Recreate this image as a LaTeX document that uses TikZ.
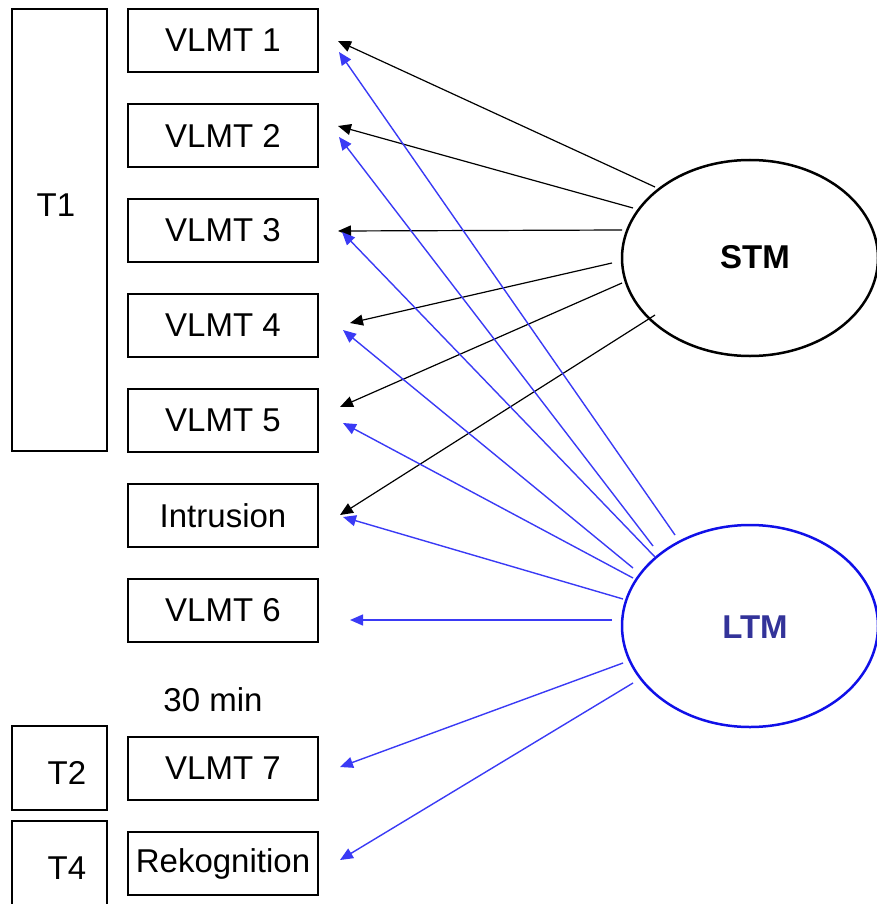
\documentclass[tikz,border=0pt]{standalone}
\usepackage{fontspec}
\setmainfont{Liberation Sans}
\usetikzlibrary{arrows.meta,shapes.geometric}
\definecolor{lblue}{HTML}{3A3AF5}
\definecolor{eblue}{HTML}{1010E8}
\definecolor{tblue}{HTML}{333399}
\begin{document}
\begin{tikzpicture}[x=1pt,y=-1pt,
  box/.style={draw,line width=1.8pt,minimum width=190pt,minimum height=63pt,inner sep=0pt,font=\fontsize{33}{39}\selectfont},
  lbl/.style={font=\fontsize{33}{39}\selectfont,inner sep=0pt},
  stmarr/.style={line width=1.2pt,black,-{Triangle[length=13pt,width=11pt]}},
  ltmarr/.style={line width=1.4pt,lblue,-{Triangle[length=13pt,width=11pt]}}]
\useasboundingbox (0,0) rectangle (877,904);
% left time boxes
\draw[line width=1.8pt] (12,9) rectangle (107,451);
\draw[line width=1.8pt] (12,726) rectangle (107,810);
\draw[line width=1.8pt] (12,906) -- (12,821) -- (107,821) -- (107,906);
\node[lbl] (t1) at (56,205) {T1};
\node[lbl] (t2) at (67,773) {T2};
\node[lbl] (t4) at (67,868) {T4};
% task boxes
\node[box] (v1) at (223,40.5) {VLMT 1};
\node[box] (v2) at (223,135.5) {VLMT 2};
\node[box] (v3) at (223,230.5) {VLMT 3};
\node[box] (v4) at (223,325.5) {VLMT 4};
\node[box] (v5) at (223,420.5) {VLMT 5};
\node[box] (int) at (223,515.5) {Intrusion};
\node[box] (v6) at (223,610.5) {VLMT 6};
\node[lbl] (min) at (213,700) {30 min};
\node[box] (v7) at (223,768.5) {VLMT 7};
\node[box] (rek) at (223,863.5) {Rekognition};
% memory ellipses
\node[draw,ellipse,line width=2.5pt,minimum width=256pt,minimum height=196pt,inner sep=0pt] (stm) at (750,258) {};
\node[font=\bfseries\fontsize{33}{39}\selectfont] (stmt) at (755,257) {STM};
\node[draw=eblue,ellipse,line width=2.5pt,minimum width=256pt,minimum height=202pt,inner sep=0pt] (ltm) at (750,626) {};
\node[font=\bfseries\fontsize{33}{39}\selectfont,text=tblue] (ltmt) at (755,627) {LTM};
% STM arrow ends
\coordinate (s1) at (655,187); \coordinate (e1) at (338,41);
\coordinate (s2) at (633,208); \coordinate (e2) at (338,126);
\coordinate (s3) at (622,230); \coordinate (e3) at (338,231);
\coordinate (s4) at (612,263); \coordinate (e4) at (350,323);
\coordinate (s5) at (622,283); \coordinate (e5) at (340,407);
\coordinate (s6) at (655,315); \coordinate (e6) at (340,515);
\foreach \i in {1,...,6} \draw[stmarr] (s\i) -- (e\i);
% LTM arrow ends
\coordinate (l1) at (675,535); \coordinate (f1) at (339,52);
\coordinate (l2) at (653,546); \coordinate (f2) at (339,137);
\coordinate (l3) at (655,557); \coordinate (f3) at (342,232);
\coordinate (l4) at (633,568); \coordinate (f4) at (343,330);
\coordinate (l5) at (633,578); \coordinate (f5) at (343,423);
\coordinate (l6) at (623,599); \coordinate (f6) at (343,517);
\coordinate (l7) at (612,620); \coordinate (f7) at (350,620);
\coordinate (l8) at (623,663); \coordinate (f8) at (340,767);
\coordinate (l9) at (633,683); \coordinate (f9) at (340,860);
\foreach \i in {1,...,9} \draw[ltmarr] (l\i) -- (f\i);
\end{tikzpicture}
\end{document}
